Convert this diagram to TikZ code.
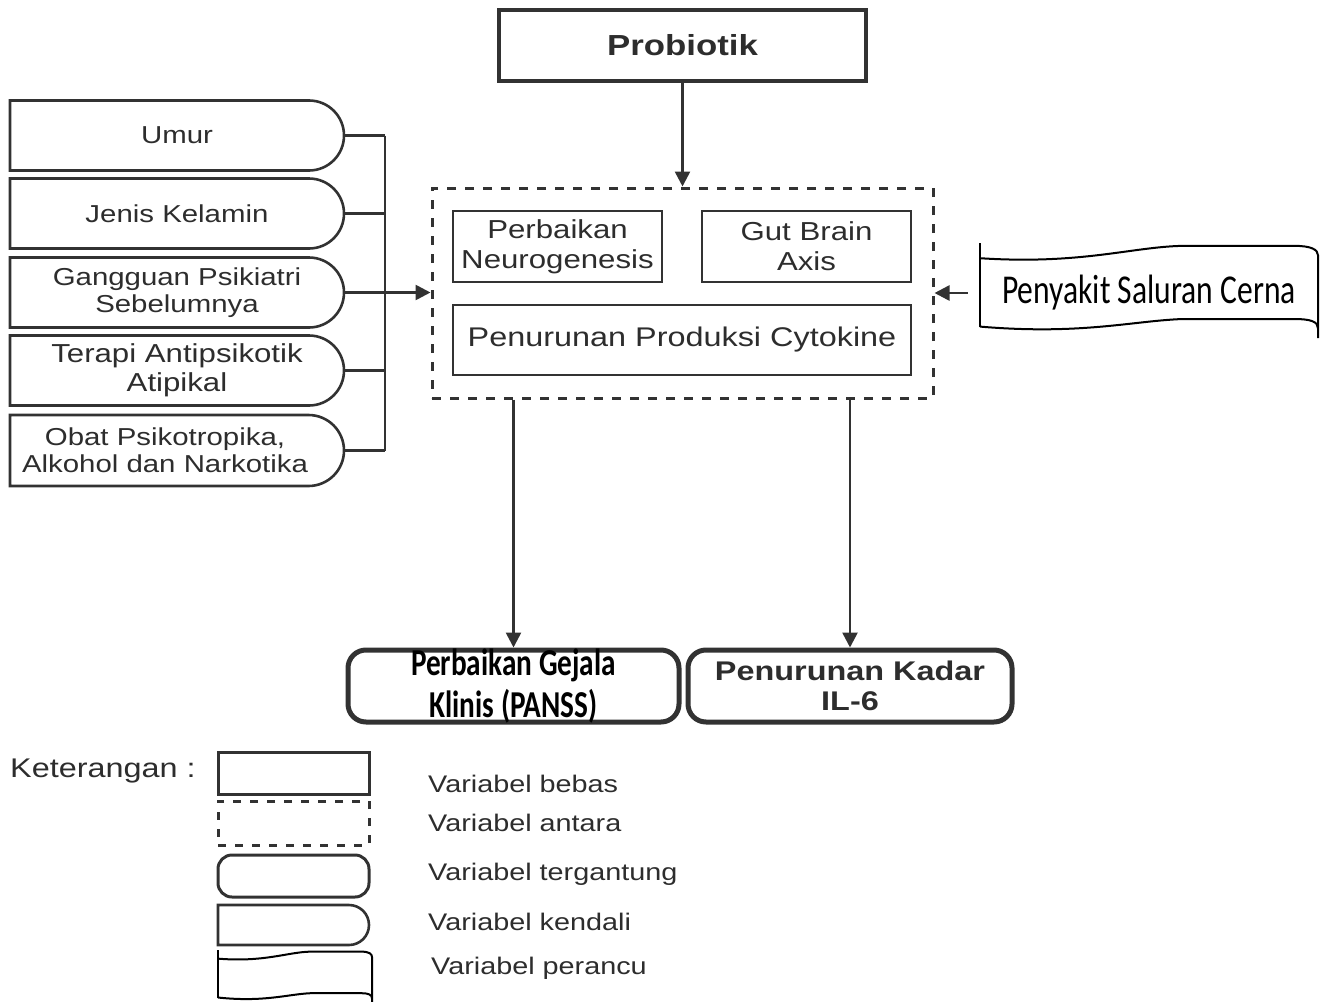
\documentclass[tikz,border=0pt]{standalone}
\usepackage{fontspec}
\setmainfont[FakeStretch=1.2]{Liberation Sans}
\newfontfamily\calfont[FakeStretch=0.77]{Carlito}
\usepackage{tikz}
\usetikzlibrary{shapes.misc, arrows.meta, calc}
\definecolor{cLine}{RGB}{50,50,50}
\definecolor{cText}{RGB}{45,45,45}
\tikzset{
  basebox/.style={rectangle, draw=cLine, line width=2.6pt, inner sep=0pt,
                  align=center, text=cText, font=\fontsize{26}{30}\selectfont},
  freebox/.style={basebox, line width=4.5pt,
                  font=\bfseries\fontsize{29}{33}\selectfont},
  midbox/.style={basebox, dash pattern=on 9pt off 9pt, line width=3pt},
  ctrlbox/.style={basebox, rounded rectangle, rounded rectangle west arc=none},
  ctrltext/.style={inner sep=0pt, align=center, text=cText,
                   font=\fontsize{24.5}{27}\selectfont},
  depbox/.style={basebox, rounded corners=18pt, line width=5pt,
                 font=\bfseries\fontsize{27}{30}\selectfont},
  callabel/.style={inner sep=0pt, align=center, text=black},
  legtext/.style={anchor=west, inner sep=0pt, text=cText,
                  font=\fontsize{24}{27}\selectfont},
  arrow/.style={-{Triangle[length=15pt,width=15pt]}, line width=2.6pt, draw=cLine},
  plain/.style={line width=2.6pt, draw=cLine},
  flagline/.style={line width=2pt, draw=black}
}
% x, y, width, height of a wavy flag
\newcommand{\flagshape}[4]{%
  \draw[flagline] ({#1},{#2}) -- ({#1},{#2+0.88*#4});
  \draw[flagline] ({#1},{#2+0.16*#4})
     .. controls ({#1+0.3*#3},{#2+0.23*#4}) and ({#1+0.45*#3},{#2+0.04*#4}) .. ({#1+0.6*#3},{#2+0.03*#4})
     -- ({#1+0.93*#3},{#2+0.03*#4})
     .. controls ({#1+0.98*#3},{#2+0.03*#4}) and ({#1+#3},{#2+0.07*#4}) .. ({#1+#3},{#2+0.13*#4})
     -- ({#1+#3},{#2+#4});
  \draw[flagline] ({#1},{#2+0.88*#4})
     .. controls ({#1+0.3*#3},{#2+0.97*#4}) and ({#1+0.45*#3},{#2+0.82*#4}) .. ({#1+0.6*#3},{#2+0.8*#4})
     -- ({#1+0.93*#3},{#2+0.8*#4})
     .. controls ({#1+0.98*#3},{#2+0.8*#4}) and ({#1+#3},{#2+0.83*#4}) .. ({#1+#3},{#2+0.9*#4});
}

\begin{document}
\begin{tikzpicture}[x=1pt, y=-1pt]
  \useasboundingbox (0,0) rectangle (1322,1001);

  % independent variable and intermediate block
  \node[freebox, minimum width=367pt, minimum height=71pt] (probiotik) at (682.5,45.5) {Probiotik};
  \node[midbox, minimum width=501pt, minimum height=210pt] (antara) at (682.5,293) {};
  \node[basebox, minimum width=209pt, minimum height=71pt] (neuro) at (557.5,246.5)
      {Perbaikan\\Neurogenesis};
  \node[basebox, minimum width=209pt, minimum height=71pt] (gba) at (806.5,246.5)
      {Gut Brain\\Axis};
  \node[basebox, font=\fontsize{27}{30}\selectfont, minimum width=458pt, minimum height=70pt]
      (cytokine) at (682,340) {Penurunan Produksi Cytokine};

  % control variables
  \node[ctrlbox, minimum width=334pt, minimum height=70pt] (umur) at (177,135.5) {};
  \node[ctrlbox, minimum width=334pt, minimum height=70pt] (jenis) at (177,213.5) {};
  \node[ctrlbox, minimum width=334pt, minimum height=70pt] (gangguan) at (177,292.5) {};
  \node[ctrlbox, minimum width=334pt, minimum height=70pt] (terapi) at (177,370.5) {};
  \node[ctrlbox, minimum width=334pt, minimum height=71pt] (obat) at (177,450.5) {};
  \node[ctrltext] (umurlbl) at (umur) {Umur};
  \node[ctrltext] (jenislbl) at (jenis) {Jenis Kelamin};
  \node[ctrltext] (gangguanlbl) at (gangguan) {Gangguan Psikiatri\\Sebelumnya};
  \node[ctrltext, font=\fontsize{26}{29}\selectfont] (terapilbl) at (terapi)
      {Terapi Antipsikotik\\Atipikal};
  \node[ctrltext, xshift=-12pt] (obatlbl) at (obat) {Obat Psikotropika,\\Alkohol dan Narkotika};
  \coordinate (bus) at (385,0);

  % confounder
  \node[callabel, font=\calfont\fontsize{41}{45}\selectfont, minimum width=338pt]
      (penyakit) at (1149,293) {Penyakit Saluran Cerna};
  \flagshape{980}{243}{338}{95}

  % dependent variables
  \node[depbox, minimum width=331pt, minimum height=72pt] (gejala) at (513.5,686) {};
  \node[callabel, font=\calfont\bfseries\fontsize{38}{42}\selectfont] (gejalalbl) at (gejala)
      {Perbaikan Gejala\\Klinis (PANSS)};
  \node[depbox, minimum width=324pt, minimum height=72pt] (kadar) at (850,686)
      {Penurunan Kadar\\IL-6};

  % connectors
  \draw[arrow] (probiotik) -- (antara);
  \foreach \src in {umur, jenis, terapi, obat}
    \draw[plain] (\src.east) -- (\src.east -| bus);
  \draw[plain] (umur.east -| bus) -- (obat.east -| bus);
  \draw[arrow] (gangguan.east) -- (gangguan.east -| antara.west);
  \draw[arrow, shorten <=12pt] (penyakit.west) -- (penyakit.west -| antara.east);
  \foreach \dst in {gejala, kadar}
    \draw[arrow] (\dst.north |- antara.south) -- (\dst.north);

  % legend
  \node[legtext, font=\fontsize{27}{30}\selectfont] (ket) at (10,771) {Keterangan :};
  \node[basebox, line width=3pt, minimum width=151pt, minimum height=42pt] (lgbebas) at (293.5,773) {};
  \node[midbox, dash pattern=on 8pt off 9pt, minimum width=151pt, minimum height=44pt] (lgantara) at (293.5,823) {};
  \node[basebox, line width=3pt, rounded corners=14pt, minimum width=151pt, minimum height=42pt] (lgterg) at (293.5,876) {};
  \node[ctrlbox, minimum width=151pt, minimum height=40pt] (lgkendali) at (293.5,925) {};
  \flagshape{218}{950}{154}{54}
  \node[legtext] (txbebas) at (428,784) {Variabel bebas};
  \node[legtext] (txantara) at (428,823) {Variabel antara};
  \node[legtext] (txterg) at (428,874) {Variabel tergantung};
  \node[legtext] (txkendali) at (428,922) {Variabel kendali};
  \node[legtext] (txperancu) at (431,968) {Variabel perancu};
\end{tikzpicture}
\end{document}
